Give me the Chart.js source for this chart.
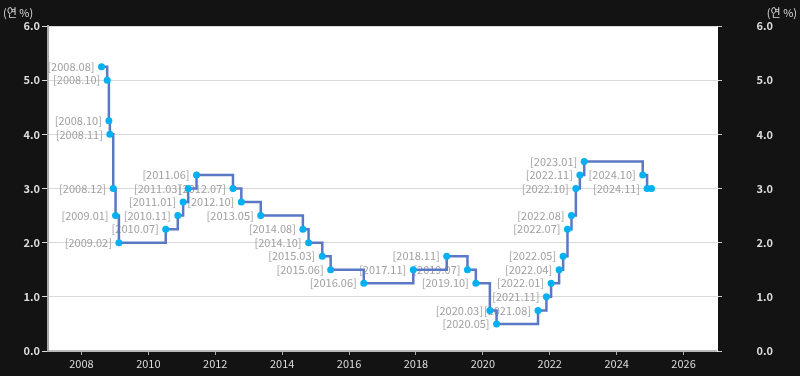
<!DOCTYPE html>
<html>
<head>
<meta charset="utf-8">
<script src="https://cdn.jsdelivr.net/npm/chart.js@4"></script>
<style>
  html, body { margin: 0; padding: 0; background: #131313; }
  #wrap { width: 800px; height: 376px; }
</style>
</head>
<body>
<div id="wrap"><canvas id="myChart"></canvas></div>
<script>
// base rate decisions (label, position in years, rate %)
const fechas = ["2008.08","2008.10","2008.10","2008.11","2008.12","2009.01","2009.02","2010.07","2010.11","2011.01",
  "2011.03","2011.06","2012.07","2012.10","2013.05","2014.08","2014.10","2015.03","2015.06","2016.06",
  "2017.11","2018.11","2019.07","2019.10","2020.03","2020.05","2021.08","2021.11","2022.01","2022.04",
  "2022.05","2022.07","2022.08","2022.10","2022.11","2023.01","2024.10","2024.11",""];
const anios = [2008.60,2008.77,2008.82,2008.85,2008.95,2009.02,2009.12,2010.52,2010.88,2011.04,
  2011.19,2011.44,2012.53,2012.78,2013.36,2014.62,2014.79,2015.20,2015.45,2016.44,
  2017.92,2018.92,2019.54,2019.79,2020.21,2020.41,2021.65,2021.90,2022.04,2022.28,
  2022.40,2022.53,2022.65,2022.78,2022.90,2023.03,2024.78,2024.91,2025.04];
const tasas = [5.25,5.00,4.25,4.00,3.00,2.50,2.00,2.25,2.50,2.75,
  3.00,3.25,3.00,2.75,2.50,2.25,2.00,1.75,1.50,1.25,
  1.50,1.75,1.50,1.25,0.75,0.50,0.75,1.00,1.25,1.50,
  1.75,2.25,2.50,3.00,3.25,3.50,3.25,3.00,3.00];
const yTicks = [0, 1, 2, 3, 4, 5, 6];
const xTicks = [2008, 2010, 2012, 2014, 2016, 2018, 2020, 2022, 2024, 2026];
const unidad = "(연 %)";

const fuente = "'Noto Sans CJK KR', 'Noto Sans', sans-serif";

const fondo = {
  id: "fondo",
  beforeDraw(chart) {
    const { ctx, chartArea } = chart;
    ctx.save();
    ctx.fillStyle = "#ffffff";
    ctx.fillRect(chartArea.left, chartArea.top, chartArea.right - chartArea.left, chartArea.bottom - chartArea.top);
    ctx.restore();
  },
  afterDraw(chart) {
    const { ctx } = chart;
    ctx.save();
    ctx.fillStyle = "#dddddd";
    ctx.font = "11px " + fuente;
    ctx.textBaseline = "middle";
    ctx.textAlign = "left";
    ctx.fillText(unidad, 3, 13);
    ctx.textAlign = "right";
    ctx.fillText(unidad, 797, 13);
    ctx.restore();
  }
};

const etiquetas = {
  id: "etiquetas",
  beforeDatasetsDraw(chart) {
    const { ctx } = chart;
    const meta = chart.getDatasetMeta(0);
    ctx.save();
    ctx.fillStyle = "#a0a0a0";
    ctx.font = "11px " + fuente;
    ctx.textAlign = "right";
    ctx.textBaseline = "middle";
    meta.data.forEach((p, i) => {
      if (fechas[i]) ctx.fillText("[" + fechas[i] + "]", p.x - 7, p.y);
    });
    ctx.restore();
  }
};

const puntos = anios.map((a, i) => ({ x: a, y: tasas[i] }));

new Chart(document.getElementById("myChart"), {
  type: "line",
  data: {
    datasets: [{
      data: puntos,
      stepped: true,
      borderColor: "#5a78c4",
      borderWidth: 2.5,
      pointBackgroundColor: "#00b0f0",
      pointBorderColor: "#00b0f0",
      pointBorderWidth: 0,
      pointRadius: 3.5,
      fill: false,
      yAxisID: "y"
    }]
  },
  options: {
    responsive: true,
    maintainAspectRatio: false,
    animation: false,
    layout: { padding: { top: 26, left: 0, right: 27, bottom: 0 } },
    plugins: { legend: { display: false }, tooltip: { enabled: false } },
    scales: {
      x: {
        type: "linear",
        min: 2007,
        max: 2027,
        afterBuildTicks: (axis) => { axis.ticks = xTicks.map(v => ({ value: v })); },
        afterFit: (axis) => { axis.height = 25; },
        ticks: {
          color: "#dddddd",
          font: { family: fuente, size: 11 },
          padding: 2,
          maxRotation: 0,
          callback: (v) => String(v)
        },
        grid: { drawOnChartArea: false, drawTicks: true, tickLength: 4, color: "#aaaaaa" },
        border: { color: "#bbbbbb", width: 2 }
      },
      y: {
        position: "left",
        min: 0,
        max: 6,
        afterBuildTicks: (axis) => { axis.ticks = yTicks.map(v => ({ value: v })); },
        afterFit: (axis) => { axis.width = 48; },
        ticks: {
          color: "#dddddd",
          font: { family: fuente, size: 11, weight: "bold" },
          padding: 2,
          callback: (v) => v.toFixed(1)
        },
        grid: { color: "#d9d9d9", tickLength: 6, lineWidth: 1 },
        border: { color: "#aaaaaa", width: 2 }
      },
      y2: {
        position: "right",
        min: 0,
        max: 6,
        afterBuildTicks: (axis) => { axis.ticks = yTicks.map(v => ({ value: v })); },
        afterFit: (axis) => { axis.width = 56; },
        ticks: {
          color: "#dddddd",
          font: { family: fuente, size: 11, weight: "bold" },
          padding: 2,
          crossAlign: "far",
          callback: (v) => v.toFixed(1)
        },
        grid: { drawOnChartArea: false, tickLength: 5, color: "#cccccc" },
        border: { color: "#ffffff", width: 1 }
      }
    }
  },
  plugins: [fondo, etiquetas]
});
</script>
</body>
</html>
